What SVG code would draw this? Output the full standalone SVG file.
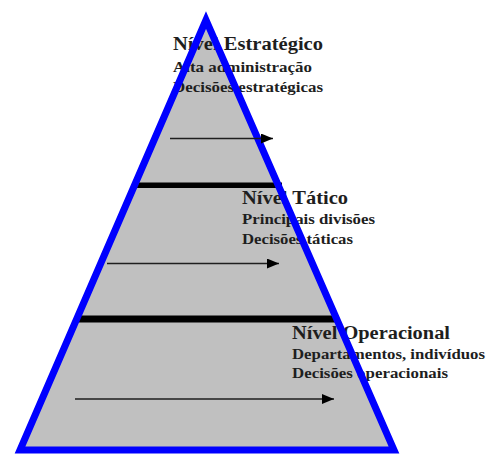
<svg xmlns="http://www.w3.org/2000/svg" width="488" height="454" viewBox="0 0 488 454">
<style>
.t{font-family:"Liberation Serif","Times New Roman",serif;font-weight:bold;fill:#1e1e1e}
.h{font-size:18px}
.s{font-size:15px}
.bar{fill:#000}
.arr{stroke:#1e1e1e;stroke-width:1.6;fill:none;marker-end:url(#ah)}
</style>
<defs>
<marker id="ah" viewBox="0 0 12 10" refX="12" refY="5" markerWidth="12" markerHeight="10" markerUnits="userSpaceOnUse" orient="auto">
<path d="M0,0 L12,5 L0,10 Z" fill="#000"/>
</marker>
</defs>
<rect width="488" height="454" fill="#fff"/>
<g id="pyramid-fill">
<polygon points="206,20 20,450 394,450" fill="#c0c0c0"/>
</g>
<g id="level-dividers">
<rect class="bar" x="132" y="182.5" width="150" height="5.5"/>
<rect class="bar" x="76" y="315.5" width="260" height="7"/>
</g>
<g id="level-estrategico">
<text class="t h" x="173" y="50" textLength="150" lengthAdjust="spacingAndGlyphs">Nível Estratégico</text>
<text class="t s" x="173" y="72" textLength="139" lengthAdjust="spacingAndGlyphs">Alta administração</text>
<text class="t s" x="173" y="92" textLength="150" lengthAdjust="spacingAndGlyphs">Decisões estratégicas</text>
</g>
<g id="level-tatico">
<text class="t h" x="242" y="204" textLength="106" lengthAdjust="spacingAndGlyphs">Nível Tático</text>
<text class="t s" x="242" y="224" textLength="133" lengthAdjust="spacingAndGlyphs">Principais divisões</text>
<text class="t s" x="242" y="244" textLength="111" lengthAdjust="spacingAndGlyphs">Decisões táticas</text>
</g>
<g id="level-operacional">
<text class="t h" x="292" y="339" textLength="158" lengthAdjust="spacingAndGlyphs">Nível Operacional</text>
<text class="t s" x="292" y="359" textLength="193" lengthAdjust="spacingAndGlyphs">Departamentos, indivíduos</text>
<text class="t s" x="292" y="378" textLength="156" lengthAdjust="spacingAndGlyphs">Decisões operacionais</text>
</g>
<g id="pyramid-outline">
<polygon points="206,20 20,450 394,450" fill="none" stroke="#0000ff" stroke-width="7" stroke-linejoin="miter" stroke-miterlimit="10"/>
</g>
<g id="connectors">
<line class="arr" x1="170" y1="138.5" x2="273" y2="138.5"/>
<line class="arr" x1="107" y1="263.5" x2="279" y2="263.5"/>
<line class="arr" x1="75" y1="399" x2="334" y2="399"/>
</g>
</svg>
